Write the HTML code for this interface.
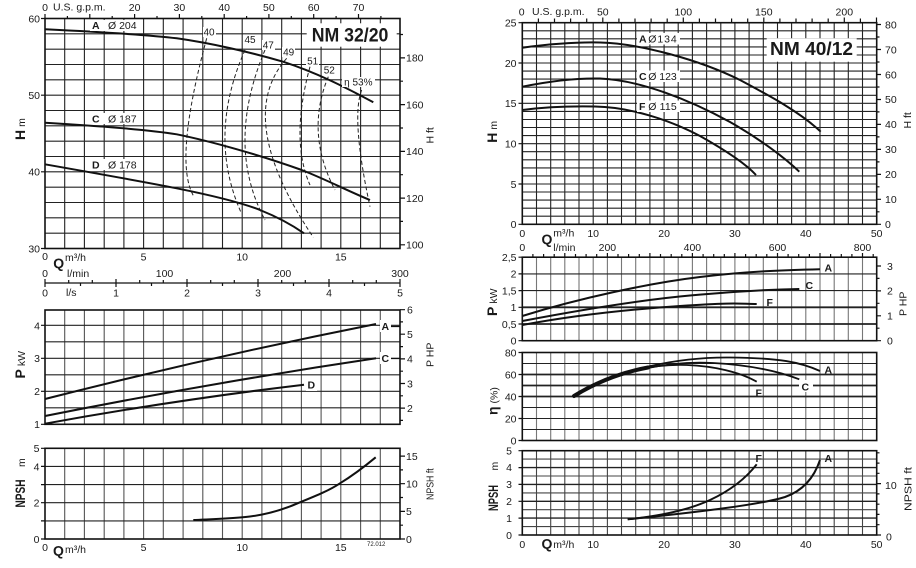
<!DOCTYPE html>
<html><head><meta charset="utf-8"><style>
html,body{margin:0;padding:0;background:#fff}
svg{display:block}
text{font-family:"Liberation Sans",Arial,sans-serif;fill:#1a1a1a;font-size:10.5px}
.b{font-weight:bold}
.q{font-weight:bold;font-size:14px}
.m{text-anchor:middle}
.e{text-anchor:end}
</style></head><body>
<svg width="916" height="568" viewBox="0 0 916 568" xmlns="http://www.w3.org/2000/svg">
<rect width="916" height="568" fill="#fff"/>

<!-- ============ LEFT TOP (H) ============ -->
<g fill="none" stroke="#222" stroke-width="1.1">
<path d="M64.7 18.5V248.5M84.4 18.5V248.5M104.2 18.5V248.5M123.9 18.5V248.5M143.6 18.5V248.5M163.3 18.5V248.5M183.1 18.5V248.5M202.8 18.5V248.5M222.5 18.5V248.5M242.2 18.5V248.5M261.9 18.5V248.5M281.7 18.5V248.5M301.4 18.5V248.5M321.1 18.5V248.5M340.8 18.5V248.5M360.6 18.5V248.5M380.3 18.5V248.5"/>
<path d="M45 233.2H400M45 217.8H400M45 202.5H400M45 187.2H400M45 171.8H400M45 156.5H400M45 141.2H400M45 125.8H400M45 110.5H400M45 95.2H400M45 79.8H400M45 64.5H400M45 49.2H400M45 33.8H400"/>
</g>
<g fill="none" stroke="#111" stroke-width="1.2">
<path d="M41 18.5H45M41 95.2H45M41 171.8H45M41 248.5H45"/>
<path d="M400 244.8H405M400 198.1H405M400 151.4H405M400 104.6H405M400 57.9H405M400 221.4H403M400 174.7H403M400 128H403M400 81.2H403M400 34.5H403"/>
<path d="M45 18.5V14M89.8 18.5V14M134.6 18.5V14M179.4 18.5V14M224.2 18.5V14M268.9 18.5V14M313.7 18.5V14M358.5 18.5V14M67.4 18.5V16M112.2 18.5V16M157 18.5V16M201.8 18.5V16M246.6 18.5V16M291.3 18.5V16M336.1 18.5V16M380.9 18.5V16"/>
</g>
<rect x="45" y="18.5" width="355" height="230" fill="none" stroke="#111" stroke-width="1.6"/>

<!-- efficiency dashed arcs -->
<g fill="none" stroke="#222" stroke-width="1" stroke-dasharray="4 2.5">
<path d="M206.7 38.3Q173 162.5 194 196.7"/>
<path d="M245 50Q207.2 135.2 240.7 211.7"/>
<path d="M265 50Q225 145 265 220"/>
<path d="M286.7 58.3Q233.4 118.2 313.3 237.3"/>
<path d="M310 66.7Q290 140 310 185"/>
<path d="M328.3 76.7Q305 132.7 335 190"/>
<path d="M361.7 90Q350.8 117.7 370 206.7"/>
</g>
<!-- H curves -->
<g fill="none" stroke="#111" stroke-width="2">
<path d="M45 29.3C100 32 150 35 176.7 38.3C210 43 250 52 283 61.7C315 72 345 87 373.3 102.3"/>
<path d="M45 122.7C100 126 150 130 176.7 134.3C210 141 260 155 301.7 170C325 179 350 192 370 200"/>
<path d="M45 164.3C100 174 150 183 176.7 188.3C210 195 240 202 260 210C280 218 295 227 304 233.3"/>
</g>
<!-- labels w/ white backgrounds -->
<g fill="#fff">
<rect x="90" y="20" width="49" height="11"/>
<rect x="90" y="113" width="49" height="11"/>
<rect x="90" y="159" width="49" height="11"/>
<rect x="203" y="27" width="13" height="10"/>
<rect x="244" y="34.5" width="13" height="10"/>
<rect x="262" y="40" width="13" height="10"/>
<rect x="282" y="47" width="13" height="10"/>
<rect x="306" y="56" width="13" height="10"/>
<rect x="323" y="65" width="13" height="10"/>
<rect x="342" y="77" width="33" height="10"/>
<rect x="306.7" y="23.3" width="90" height="23.4"/>
</g>
<text class="b" x="92" y="29">A</text><text x="108" y="29">Ø 204</text>
<text class="b" x="92" y="122.3">C</text><text x="108" y="122.3">Ø 187</text>
<text class="b" x="92" y="168.3">D</text><text x="108" y="168.3">Ø 178</text>
<g>
<text class="m" x="209" y="35.3" style="font-size:10px">40</text>
<text class="m" x="250" y="43" style="font-size:10px">45</text>
<text class="m" x="268.3" y="48.7" style="font-size:10px">47</text>
<text class="m" x="288.7" y="55.4" style="font-size:10px">49</text>
<text class="m" x="312.7" y="64.4" style="font-size:10px">51</text>
<text class="m" x="329.3" y="73.7" style="font-size:10px">52</text>
<text class="m" x="358.3" y="85.4" style="font-size:10px">η 53%</text>
</g>
<text class="b" x="311.7" y="41.5" style="font-size:19.5px" textLength="76.7" lengthAdjust="spacingAndGlyphs">NM 32/20</text>

<!-- left top axis labels -->
<text class="e" x="40" y="22.3">60</text>
<text class="e" x="40" y="99">50</text>
<text class="e" x="40" y="175.6">40</text>
<text class="e" x="40" y="252.3">30</text>
<text x="406" y="61.7">180</text>
<text x="406" y="108.4">160</text>
<text x="406" y="155.2">140</text>
<text x="406" y="201.9">120</text>
<text x="406" y="248.6">100</text>
<text class="m" x="45" y="11">0</text>
<text x="53" y="10.5">U.S. g.p.m.</text>
<text class="m" x="134.6" y="11">20</text>
<text class="m" x="179.4" y="11">30</text>
<text class="m" x="224.2" y="11">40</text>
<text class="m" x="268.9" y="11">50</text>
<text class="m" x="313.7" y="11">60</text>
<text class="m" x="358.5" y="11">70</text>
<text transform="translate(25,140) rotate(-90)"><tspan class="q">H</tspan><tspan dx="3">m</tspan></text>
<text transform="translate(433.5,143.5) rotate(-90)">H ft</text>

<!-- middle Q axis (left) -->
<text class="m" x="45" y="260">0</text>
<text class="q" x="53.3" y="268">Q</text>
<text x="65" y="261">m³/h</text>
<text class="m" x="143.6" y="260.5">5</text>
<text class="m" x="242.2" y="260.5">10</text>
<text class="m" x="340.8" y="260.5">15</text>
<text class="m" x="45" y="277">0</text>
<text x="67" y="277">l/min</text>
<text class="m" x="164.5" y="277">100</text>
<text class="m" x="282.5" y="277">200</text>
<text class="m" x="400" y="277">300</text>
<g fill="none" stroke="#111" stroke-width="1.2">
<path d="M45 283H400"/>
<path d="M45 279V287M116 279V287M187 279V287M258 279V287M329 279V287M400 279V287"/>
<path d="M68.7 283V280M92.3 283V280M139.7 283V280M163.3 283V280M210.7 283V280M234.3 283V280M281.7 283V280M305.3 283V280M352.7 283V280M376.3 283V280"/>
<path d="M80.5 283V286M151.5 283V286M222.5 283V286M293.5 283V286M364.5 283V286"/>
</g>
<text class="m" x="45" y="296.5">0</text>
<text x="66" y="296">l/s</text>
<text class="m" x="116" y="296.5">1</text>
<text class="m" x="187" y="296.5">2</text>
<text class="m" x="258" y="296.5">3</text>
<text class="m" x="329" y="296.5">4</text>
<text class="m" x="400" y="296.5">5</text>

<!-- ============ LEFT P ============ -->
<g fill="none" stroke="#555" stroke-width="1.1">
<path d="M64.7 310V424.3M84.4 310V424.3M104.2 310V424.3M123.9 310V424.3M143.6 310V424.3M163.3 310V424.3M183.1 310V424.3M202.8 310V424.3M222.5 310V424.3M242.2 310V424.3M261.9 310V424.3M281.7 310V424.3M301.4 310V424.3M321.1 310V424.3M340.8 310V424.3M360.6 310V424.3M380.3 310V424.3"/>
</g>
<g fill="none" stroke="#222" stroke-width="1.1">
<path d="M45 407.8H400M45 391.3H400M45 374.8H400M45 358.3H400M45 341.8H400M45 325.3H400"/>
</g>
<g fill="none" stroke="#111" stroke-width="1.2">
<path d="M41 424.3H45M41 391.3H45M41 358.3H45M41 325.3H45"/>
<path d="M400 408.1H405M400 383.5H405M400 358.9H405M400 334.2H405M400 309.7H405M400 420.4H403M400 395.8H403M400 371.2H403M400 346.6H403M400 321.9H403"/>
<path d="M391 326.5H400M391 358.5H400"/>
</g>
<rect x="45" y="310" width="355" height="114.3" fill="none" stroke="#111" stroke-width="1.6"/>
<g fill="none" stroke="#111" stroke-width="2">
<path d="M45 399Q210 357 376 324"/>
<path d="M45 416Q210 383 376 358.3"/>
<path d="M45 423.7Q175 400 304 384.7"/>
</g>
<rect x="380" y="320" width="11" height="12" fill="#fff"/>
<rect x="380" y="352" width="11" height="12" fill="#fff"/>
<rect x="306" y="379" width="11" height="12" fill="#fff"/>
<text class="b" x="381.5" y="330">A</text>
<text class="b" x="381.5" y="362">C</text>
<text class="b" x="307.5" y="388.5">D</text>
<text class="e" x="40" y="329.7">4</text>
<text class="e" x="40" y="362">3</text>
<text class="e" x="40" y="395">2</text>
<text class="e" x="40" y="428">1</text>
<text x="407" y="313.5">6</text>
<text x="407" y="338">5</text>
<text x="407" y="362.7">4</text>
<text x="407" y="387.3">3</text>
<text x="407" y="412">2</text>
<text transform="translate(25,378.5) rotate(-90)"><tspan class="q">P</tspan><tspan dx="3">kW</tspan></text>
<text transform="translate(433.5,367) rotate(-90)">P HP</text>

<!-- ============ LEFT NPSH ============ -->
<g fill="none" stroke="#555" stroke-width="1.1">
<path d="M64.7 448.3V539M84.4 448.3V539M104.2 448.3V539M123.9 448.3V539M143.6 448.3V539M163.3 448.3V539M183.1 448.3V539M202.8 448.3V539M222.5 448.3V539M242.2 448.3V539M261.9 448.3V539M281.7 448.3V539M301.4 448.3V539M321.1 448.3V539M340.8 448.3V539M360.6 448.3V539M380.3 448.3V539"/>
</g>
<g fill="none" stroke="#222" stroke-width="1.1">
<path d="M45 520.9H400M45 502.7H400M45 484.6H400M45 466.4H400"/>
</g>
<g fill="none" stroke="#111" stroke-width="1.2">
<path d="M41 539H45M41 520.9H45M41 502.7H45M41 484.6H45M41 466.4H45M41 448.3H45"/>
<path d="M400 539H405M400 511.4H405M400 483.7H405M400 456.1H405M400 525.2H403M400 497.5H403M400 469.9H403"/>
</g>
<rect x="45" y="448.3" width="355" height="90.7" fill="none" stroke="#111" stroke-width="1.6"/>
<path d="M193.3 520C215 519 235 518.5 250 516.5C270 514 285 509 300 502.3C318 495 330 490 340 483.3C352 476 364 467 375.7 457.3" fill="none" stroke="#111" stroke-width="2"/>
<text class="e" x="39.5" y="452">5</text>
<text class="e" x="39.5" y="470.5">4</text>
<text class="e" x="39.5" y="506.5">2</text>
<text class="e" x="39.5" y="543">0</text>
<text x="406" y="460">15</text>
<text x="406" y="487.5">10</text>
<text x="406" y="515.2">5</text>
<text x="406" y="542.8">0</text>
<text transform="translate(25,507.5) rotate(-90)"><tspan class="q" textLength="28" lengthAdjust="spacingAndGlyphs">NPSH</tspan></text>
<text transform="translate(25,507.5) rotate(-90)" x="40.5">m</text>
<text transform="translate(433.5,500) rotate(-90)" textLength="31.7" lengthAdjust="spacingAndGlyphs">NPSH ft</text>
<text class="m" x="45" y="551">0</text>
<text class="q" x="53" y="555.5">Q</text>
<text x="65" y="553">m³/h</text>
<text class="m" x="143.6" y="551">5</text>
<text class="m" x="242.2" y="551">10</text>
<text class="m" x="340.8" y="551">15</text>
<text x="367" y="546" style="font-size:6px">72.012</text>

<!-- ============ RIGHT TOP (H) ============ -->
<g fill="none" stroke="#222" stroke-width="1.1">
<path d="M536.5 22.7V224.3M550.7 22.7V224.3M564.8 22.7V224.3M579 22.7V224.3M593.2 22.7V224.3M607.4 22.7V224.3M621.5 22.7V224.3M635.7 22.7V224.3M649.9 22.7V224.3M664.1 22.7V224.3M678.2 22.7V224.3M692.4 22.7V224.3M706.6 22.7V224.3M720.8 22.7V224.3M734.9 22.7V224.3M749.1 22.7V224.3M763.3 22.7V224.3M777.5 22.7V224.3M791.6 22.7V224.3M805.8 22.7V224.3M820 22.7V224.3M834.2 22.7V224.3M848.3 22.7V224.3M862.5 22.7V224.3"/>
<path d="M522.3 216.2H876.7M522.3 208.2H876.7M522.3 200.1H876.7M522.3 192H876.7M522.3 184H876.7M522.3 175.9H876.7M522.3 167.9H876.7M522.3 159.8H876.7M522.3 151.7H876.7M522.3 143.7H876.7M522.3 135.6H876.7M522.3 127.5H876.7M522.3 119.5H876.7M522.3 111.4H876.7M522.3 103.3H876.7M522.3 95.3H876.7M522.3 87.2H876.7M522.3 79.1H876.7M522.3 71.1H876.7M522.3 63H876.7M522.3 55H876.7M522.3 46.9H876.7M522.3 38.8H876.7M522.3 30.8H876.7"/>
</g>
<g fill="none" stroke="#111" stroke-width="1.2">
<path d="M518.5 224.3H522.3M518.5 184H522.3M518.5 143.7H522.3M518.5 103.3H522.3M518.5 63H522.3M518.5 22.7H522.3"/>
<path d="M876.7 224.3H881M876.7 199.3H881M876.7 174.4H881M876.7 149.4H881M876.7 124.4H881M876.7 99.5H881M876.7 74.5H881M876.7 49.5H881M876.7 24.5H881M876.7 211.8H879.5M876.7 186.8H879.5M876.7 161.9H879.5M876.7 136.9H879.5M876.7 111.9H879.5M876.7 87H879.5M876.7 62H879.5M876.7 37H879.5"/>
<path d="M538.4 22.7V18.5M554.5 22.7V18.5M570.6 22.7V18.5M586.7 22.7V18.5M602.8 22.7V17.5M618.9 22.7V18.5M635 22.7V18.5M651.1 22.7V18.5M667.2 22.7V18.5M683.3 22.7V17.5M699.4 22.7V18.5M715.5 22.7V18.5M731.6 22.7V18.5M747.7 22.7V18.5M763.8 22.7V17.5M779.9 22.7V18.5M796 22.7V18.5M812.1 22.7V18.5M828.2 22.7V18.5M844.3 22.7V17.5M860.4 22.7V18.5M876.5 22.7V17.5"/>
</g>
<rect x="522.3" y="22.7" width="354.4" height="201.6" fill="none" stroke="#111" stroke-width="1.6"/>
<g fill="none" stroke="#111" stroke-width="2">
<path d="M522.3 47.7C550 44 575 42 600 42.5C640 43.5 700 60 740 80C770 96 800 112 820.7 131.7"/>
<path d="M522.3 86.7C550 81 575 78 600 78.5C640 80 690 100 730 122C760 139 785 158 799.3 171.7"/>
<path d="M522.3 110C545 107 570 106 595 106.5C630 107 670 120 700 136C725 150 745 163 756 175"/>
</g>
<g fill="#fff">
<rect x="637" y="33" width="43" height="11.5"/>
<rect x="637" y="70.5" width="43" height="11.5"/>
<rect x="637" y="100.5" width="43" height="11.5"/>
<rect x="766.7" y="38.3" width="90" height="23.4"/>
</g>
<text class="b" x="639" y="42.3">A</text><text x="648.3" y="42.3" textLength="28.4">Ø134</text>
<text class="b" x="639" y="80">C</text><text x="648.3" y="80" textLength="28.4">Ø 123</text>
<text class="b" x="639" y="110">F</text><text x="648.3" y="110" textLength="28.4">Ø 115</text>
<text class="b" x="770" y="55" style="font-size:18.5px" textLength="83" lengthAdjust="spacingAndGlyphs">NM 40/12</text>
<text class="e" x="516.5" y="26.5">25</text>
<text class="e" x="516.5" y="66.8">20</text>
<text class="e" x="516.5" y="107">15</text>
<text class="e" x="516.5" y="147.5">10</text>
<text class="e" x="516.5" y="187.8">5</text>
<text class="e" x="516.5" y="228">0</text>
<text x="885" y="28.3">80</text>
<text x="885" y="53.3">70</text>
<text x="885" y="78.3">60</text>
<text x="885" y="103.2">50</text>
<text x="885" y="128.2">40</text>
<text x="885" y="153.2">30</text>
<text x="885" y="178.2">20</text>
<text x="885" y="203.1">10</text>
<text x="885" y="228.1">0</text>
<text class="m" x="521.7" y="15.5">0</text>
<text x="532" y="15">U.S. g.p.m.</text>
<text class="m" x="602.8" y="15.5">50</text>
<text class="m" x="683.3" y="15.5">100</text>
<text class="m" x="763.8" y="15.5">150</text>
<text class="m" x="844.3" y="15.5">200</text>
<text transform="translate(497,142.7) rotate(-90)"><tspan class="q">H</tspan><tspan dx="3">m</tspan></text>
<text transform="translate(911,128.5) rotate(-90)">H ft</text>
<text class="m" x="522.3" y="237">0</text>
<text class="q" x="541.5" y="244">Q</text>
<text x="553.3" y="236.5">m³/h</text>
<text class="m" x="593.2" y="237">10</text>
<text class="m" x="664.1" y="237">20</text>
<text class="m" x="734.9" y="237">30</text>
<text class="m" x="805.8" y="237">40</text>
<text class="m" x="876.7" y="237">50</text>
<text class="m" x="522.3" y="251">0</text>
<text x="553.3" y="251">l/min</text>
<text class="m" x="607.4" y="251">200</text>
<text class="m" x="692.4" y="251">400</text>
<text class="m" x="777.5" y="251">600</text>
<text class="m" x="862.5" y="251">800</text>

<!-- ============ RIGHT P ============ -->
<g fill="none" stroke="#777" stroke-width="1.1">
<path d="M536.5 257.2V340.7M550.7 257.2V340.7M564.8 257.2V340.7M579 257.2V340.7M593.2 257.2V340.7M607.4 257.2V340.7M621.5 257.2V340.7M635.7 257.2V340.7M649.9 257.2V340.7M664.1 257.2V340.7M678.2 257.2V340.7M692.4 257.2V340.7M706.6 257.2V340.7M720.8 257.2V340.7M734.9 257.2V340.7M749.1 257.2V340.7M763.3 257.2V340.7M777.5 257.2V340.7M791.6 257.2V340.7M805.8 257.2V340.7M820 257.2V340.7M834.2 257.2V340.7M848.3 257.2V340.7M862.5 257.2V340.7"/>
<path d="M536.5 352.5V440.5M550.7 352.5V440.5M564.8 352.5V440.5M579 352.5V440.5M593.2 352.5V440.5M607.4 352.5V440.5M621.5 352.5V440.5M635.7 352.5V440.5M649.9 352.5V440.5M664.1 352.5V440.5M678.2 352.5V440.5M692.4 352.5V440.5M706.6 352.5V440.5M720.8 352.5V440.5M734.9 352.5V440.5M749.1 352.5V440.5M763.3 352.5V440.5M777.5 352.5V440.5M791.6 352.5V440.5M805.8 352.5V440.5M820 352.5V440.5M834.2 352.5V440.5M848.3 352.5V440.5M862.5 352.5V440.5"/>
</g>
<g fill="none" stroke="#222">
<path stroke-width="1.1" d="M522.3 273.9H876.7M522.3 290.6H876.7"/>
<path stroke-width="1.8" d="M522.3 307.3H876.7M522.3 324H876.7"/>
<path stroke-width="1.1" d="M522.3 363.5H876.7M522.3 407.5H876.7M522.3 418.5H876.7M522.3 429.5H876.7"/>
<path stroke-width="1.8" d="M522.3 374.5H876.7M522.3 385.5H876.7M522.3 396.5H876.7"/>
</g>
<g fill="none" stroke="#111" stroke-width="1.2">
<path d="M518.5 257.2H522.3M518.5 273.9H522.3M518.5 290.6H522.3M518.5 307.3H522.3M518.5 324H522.3M518.5 340.7H522.3"/>
<path d="M532.9 257.2V254M543.6 257.2V254M554.2 257.2V254M564.8 257.2V253M575.5 257.2V254M586.1 257.2V254M596.7 257.2V254M607.4 257.2V253M618 257.2V254M628.6 257.2V254M639.3 257.2V254M649.9 257.2V253M660.5 257.2V254M671.2 257.2V254M681.8 257.2V254M692.4 257.2V253M703.1 257.2V254M713.7 257.2V254M724.3 257.2V254M734.9 257.2V253M745.6 257.2V254M756.2 257.2V254M766.8 257.2V254M777.5 257.2V253M788.1 257.2V254M798.7 257.2V254M809.4 257.2V254M820 257.2V253M830.6 257.2V254M841.3 257.2V254M851.9 257.2V254M862.5 257.2V253M873.2 257.2V254"/>
<path d="M876.7 340.7H881M876.7 315.8H881M876.7 290.9H881M876.7 266H881M876.7 328.2H879.5M876.7 303.3H879.5M876.7 278.4H879.5"/>
<path d="M518.5 352.5H522.3M518.5 374.5H522.3M518.5 396.5H522.3M518.5 418.5H522.3M518.5 440.5H522.3"/>
</g>
<rect x="522.3" y="257.2" width="354.4" height="83.5" fill="none" stroke="#111" stroke-width="1.6"/>
<rect x="522.3" y="352.5" width="354.4" height="88" fill="none" stroke="#111" stroke-width="1.6"/>
<g fill="none" stroke="#111" stroke-width="2">
<path d="M522.3 316C580 298 650 283 700 277S790 270 820 269.3"/>
<path d="M522.3 321C580 310 640 300 690 295.5S770 289.5 799.3 289"/>
<path d="M522.3 325C570 316 620 310 680 306S740 304 756.7 304"/>
</g>
<g fill="none" stroke="#111" stroke-width="1.8">
<path d="M573.3 396C620 368 680 357 730 357.5S800 362 820 371"/>
<path d="M573.3 396C620 368 675 361 713 363S780 372 799.3 379.3"/>
<path d="M573.3 396C615 369 660 364 686.7 365S740 372 756.7 381.7"/>
</g>
<path d="M574 396Q608 375 648 367.5" fill="none" stroke="#111" stroke-width="4" stroke-linecap="round"/>
<text class="b" x="824.5" y="271.5">A</text>
<text class="b" x="805.5" y="289">C</text>
<text class="b" x="766.5" y="306">F</text>
<rect x="799" y="380" width="14" height="12" fill="#fff"/>
<text class="b" x="824.5" y="373.5">A</text>
<text class="b" x="801.5" y="390.5">C</text>
<text class="b" x="755.5" y="396.5">F</text>
<text class="e" x="516.5" y="260.8">2,5</text>
<text class="e" x="516.5" y="277.7">2</text>
<text class="e" x="516.5" y="294.4">1,5</text>
<text class="e" x="516.5" y="311.1">1</text>
<text class="e" x="516.5" y="327.8">0,5</text>
<text class="e" x="516.5" y="344.5">0</text>
<text x="887" y="269.8">3</text>
<text x="887" y="294.7">2</text>
<text x="887" y="319.6">1</text>
<text x="887" y="344.5">0</text>
<text class="e" x="516.5" y="356.3">80</text>
<text class="e" x="516.5" y="378.3">60</text>
<text class="e" x="516.5" y="400.3">40</text>
<text class="e" x="516.5" y="422.3">20</text>
<text class="e" x="516.5" y="444.3">0</text>
<text transform="translate(497,316) rotate(-90)"><tspan class="q">P</tspan><tspan dx="3">kW</tspan></text>
<text transform="translate(906.5,316) rotate(-90)">P HP</text>
<text transform="translate(497.5,415) rotate(-90)"><tspan class="q">η</tspan><tspan dx="3">(%)</tspan></text>

<!-- ============ RIGHT NPSH ============ -->
<g fill="none" stroke="#444" stroke-width="1.1">
<path d="M536.5 450.7V535M550.7 450.7V535M564.8 450.7V535M579 450.7V535M593.2 450.7V535M607.4 450.7V535M621.5 450.7V535M635.7 450.7V535M649.9 450.7V535M664.1 450.7V535M678.2 450.7V535M692.4 450.7V535M706.6 450.7V535M720.8 450.7V535M734.9 450.7V535M749.1 450.7V535M763.3 450.7V535M777.5 450.7V535M791.6 450.7V535M805.8 450.7V535M820 450.7V535M834.2 450.7V535M848.3 450.7V535M862.5 450.7V535"/>
<path d="M522.3 526.6H876.7M522.3 509.7H876.7M522.3 492.9H876.7M522.3 476H876.7M522.3 459.1H876.7"/>
</g>
<g fill="none" stroke="#222" stroke-width="1.4">
<path d="M522.3 518.1H876.7M522.3 501.3H876.7M522.3 484.4H876.7M522.3 467.6H876.7"/>
</g>
<g fill="none" stroke="#111" stroke-width="1.2">
<path d="M518.5 450.7H522.3M518.5 467.6H522.3M518.5 484.4H522.3M518.5 501.3H522.3M518.5 518.1H522.3M518.5 535H522.3"/>
<path d="M876.7 535H881M876.7 483.6H881M876.7 524.7H879.5M876.7 514.4H879.5M876.7 504.2H879.5M876.7 493.9H879.5M876.7 473.3H879.5M876.7 463.1H879.5M876.7 452.8H879.5"/>
</g>
<rect x="522.3" y="450.7" width="354.4" height="84.3" fill="none" stroke="#111" stroke-width="1.6"/>
<g fill="none" stroke="#111" stroke-width="2">
<path d="M627.7 519.3Q680 514 710 500T756.7 464.3"/>
<path d="M627.7 519.3C690 513 760 505 785 497C805 490 815 475 820 460"/>
</g>
<text class="b" x="755.5" y="462">F</text>
<text class="b" x="824.5" y="462">A</text>
<text class="e" x="512" y="454.5">5</text>
<text class="e" x="512" y="471.2">4</text>
<text class="e" x="512" y="488.2">3</text>
<text class="e" x="512" y="505.1">2</text>
<text class="e" x="512" y="522">1</text>
<text class="e" x="512" y="538.8">0</text>
<text x="885" y="488.8">10</text>
<text x="886" y="540.5">0</text>
<text transform="translate(498,511) rotate(-90)"><tspan class="q" textLength="26" lengthAdjust="spacingAndGlyphs">NPSH</tspan></text>
<text transform="translate(498,511) rotate(-90)" x="40.5">m</text>
<text transform="translate(911.5,511) rotate(-90)" textLength="44" lengthAdjust="spacingAndGlyphs">NPSH ft</text>
<text class="m" x="522.3" y="548">0</text>
<text class="q" x="541.5" y="548.5">Q</text>
<text x="553.3" y="548">m³/h</text>
<text class="m" x="593.2" y="548">10</text>
<text class="m" x="664.1" y="548">20</text>
<text class="m" x="734.9" y="548">30</text>
<text class="m" x="805.8" y="548">40</text>
<text class="m" x="876.7" y="548">50</text>
</svg>
</body></html>
